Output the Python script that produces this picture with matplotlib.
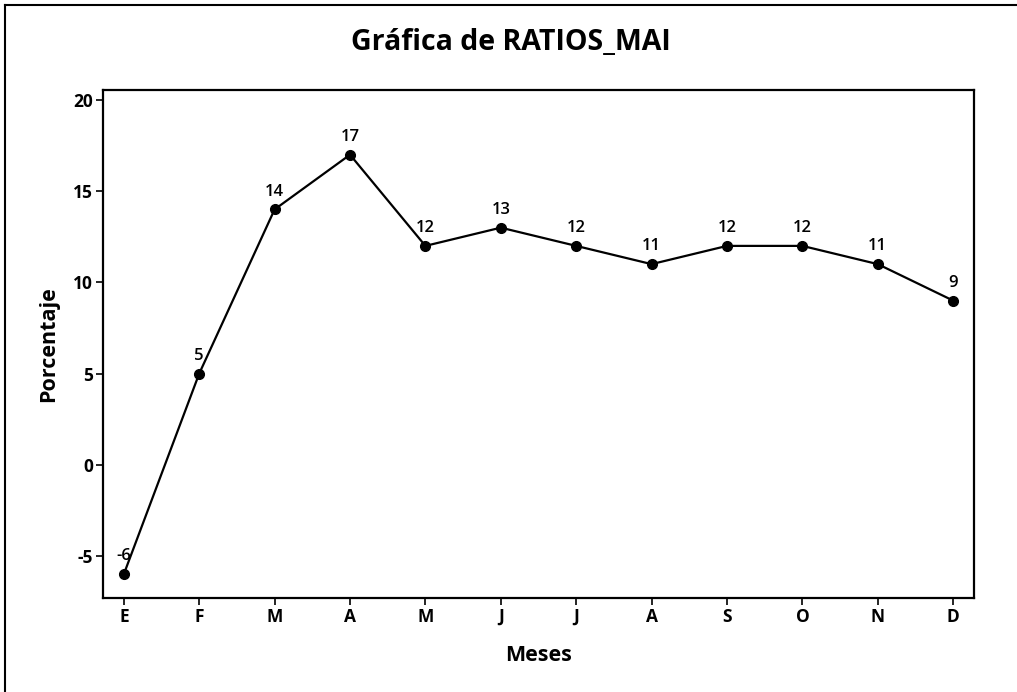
import matplotlib.pyplot as plt
from matplotlib.lines import Line2D

# datos
meses = ['E', 'F', 'M', 'A', 'M', 'J', 'J', 'A', 'S', 'O', 'N', 'D']
ratios = [-6, 5, 14, 17, 12, 13, 12, 11, 12, 12, 11, 9]
yticks = [-5, 0, 5, 10, 15, 20]

plt.rcParams['font.family'] = ['Open Sans', 'DejaVu Sans']

fig = plt.figure(figsize=(10.17, 6.92), dpi=100)
ax = fig.add_axes([0.101, 0.136, 0.857, 0.734])

x = list(range(len(meses)))
ax.plot(x, ratios, color='black', linewidth=1.6, marker='o', markersize=7)

# etiquetas de valores
for xi, yi in zip(x, ratios):
    ax.annotate(str(yi), (xi, yi), xytext=(0, 7), textcoords='offset points',
                ha='center', va='bottom', fontsize=12, fontweight='semibold')

ax.set_xlim(-0.28, 11.28)
ax.set_ylim(-7.3, 20.55)
ax.set_xticks(x)
ax.set_xticklabels(meses, fontsize=12.5, fontweight='bold')
ax.set_yticks(yticks)
ax.set_yticklabels([str(v) for v in yticks], fontsize=12.5, fontweight='bold')
ax.tick_params(direction='out', length=5, width=1.2, pad=2)
for s in ax.spines.values():
    s.set_linewidth(1.6)

ax.set_xlabel('Meses', fontsize=15.5, fontweight='bold', labelpad=14)
ax.set_ylabel('Porcentaje', fontsize=15.5, fontweight='bold', labelpad=10)
fig.text(0.502, 0.938, 'Gráfica de RATIOS_MAI', ha='center', va='center',
         fontsize=20.5, fontweight='bold')

# marco de la hoja escaneada (izquierda y arriba)
fig.add_artist(Line2D([0.005, 0.005], [0.0, 0.993], color='black', linewidth=1.5,
                      transform=fig.transFigure))
fig.add_artist(Line2D([0.005, 1.0], [0.993, 0.993], color='black', linewidth=1.5,
                      transform=fig.transFigure))

plt.savefig('out.png', dpi=100)
